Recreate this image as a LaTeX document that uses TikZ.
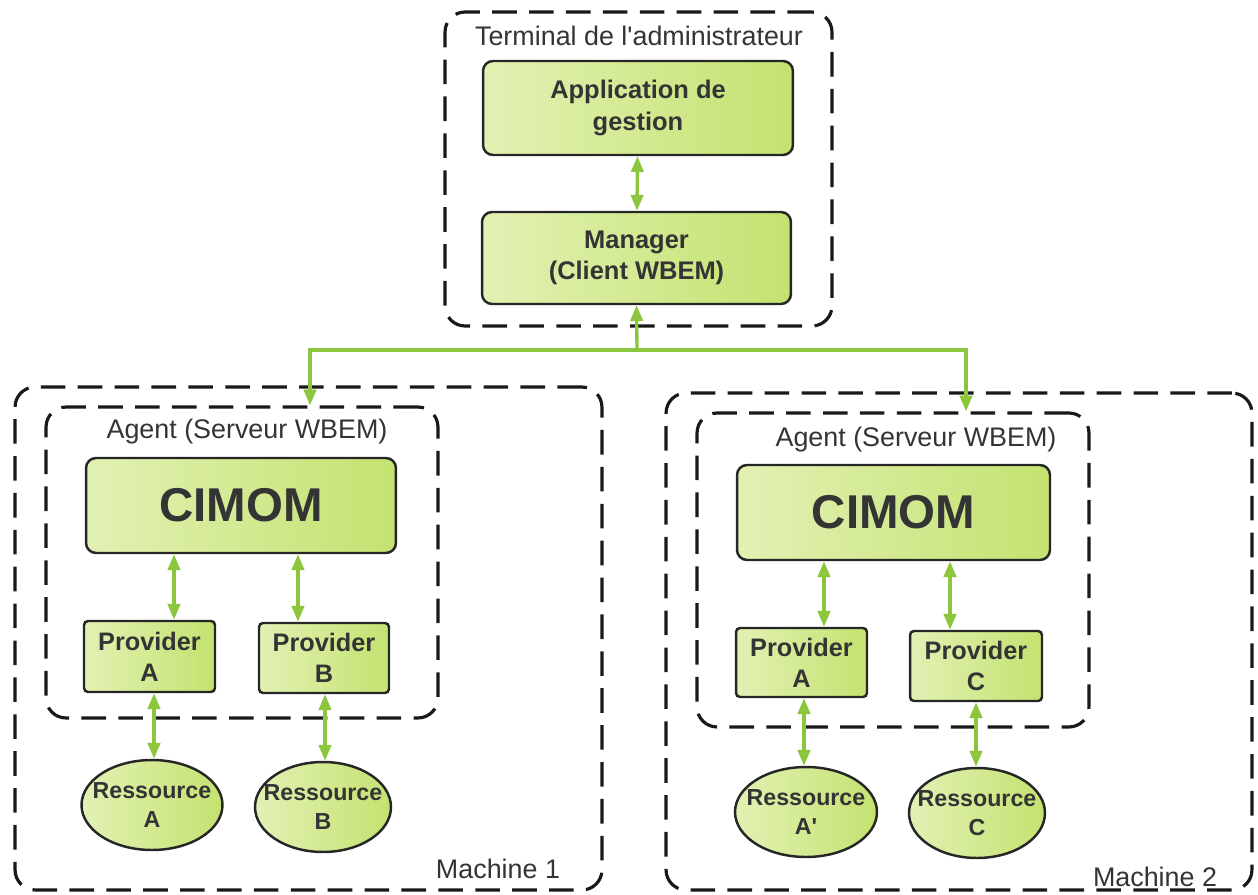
\documentclass[tikz,border=0pt]{standalone}
\usepackage{fontspec}
\setmainfont{Liberation Sans}
\usetikzlibrary{arrows.meta,shapes.geometric}

\definecolor{boxlight}{RGB}{226,241,180}
\definecolor{boxdark}{RGB}{196,226,112}
\definecolor{linkgreen}{RGB}{140,198,60}
\definecolor{ink}{RGB}{52,52,52}

\begin{document}
\begin{tikzpicture}[x=0.02cm, y=-0.02cm,
  container/.style={draw=black!90, line width=1.8pt, dash pattern=on 14pt off 7pt,
    rounded corners=0.4cm, inner sep=0pt},
  box/.style={draw=black!85, line width=1.4pt, rounded corners=0.2cm,
    left color=boxlight, right color=boxdark, inner sep=0pt,
    font=\bfseries\fontsize{14.5}{18}\selectfont, text=ink, align=center},
  smallbox/.style={box, rounded corners=0.08cm, font=\bfseries\fontsize{14.4}{17.5}\selectfont},
  bigtext/.style={font=\bfseries\fontsize{27}{30}\selectfont},
  res/.style={ellipse, draw=black!85, line width=1.4pt, left color=boxlight,
    right color=boxdark, inner sep=0pt, minimum height=1.8cm},
  restext/.style={font=\bfseries\fontsize{13.2}{16.5}\selectfont, text=ink, align=center},
  title/.style={font=\fontsize{15.3}{18}\selectfont, text=ink},
  link/.style={draw=linkgreen, line width=1.9pt, {Triangle[length=9pt,width=7pt]}-{Triangle[length=9pt,width=7pt]}},
  feed/.style={draw=linkgreen, line width=1.9pt, -{Triangle[length=9pt,width=7pt]}}
]
\useasboundingbox (0,0) rectangle (1258,895);

% ---------- administrator terminal ----------
\node[container, minimum width=7.74cm, minimum height=6.28cm] (term) at (638.5,169) {};
\node[title] (termt) at (639,36) {Terminal de l\textquotesingle administrateur};
\node[box, minimum width=6.2cm, minimum height=1.88cm] (app) at (638,108) {Application de\\gestion};
\node[box, minimum width=6.18cm, minimum height=1.84cm] (mgr) at (636.5,258) {Manager\\(Client WBEM)};
\draw[link] (app) -- (mgr);

% ---------- machine 1 ----------
\node[container, minimum width=11.74cm, minimum height=10.06cm] (m1) at (308.5,638.5) {};
\node[title] (m1t) at (498,869) {Machine 1};
\node[container, minimum width=7.84cm, minimum height=6.22cm] (ag1) at (242,562.5) {};
\node[title] (ag1t) at (247,432) {Agent (Serveur WBEM)};
\node[box, bigtext, minimum width=6.2cm, minimum height=1.9cm] (cim1) at (241,505.5) {CIMOM};
\node[smallbox, minimum width=2.62cm, minimum height=1.42cm] (pa1) at (149.5,656.5) {Provider\\A};
\node[smallbox, minimum width=2.6cm, minimum height=1.4cm] (pb1) at (324,658) {Provider\\B};
\node[res, minimum width=2.82cm] (ra1) at (152,805) {};
\node[restext] (ra1t) at (ra1) {Ressource\\A};
\node[res, minimum width=2.72cm] (rb1) at (323,807) {};
\node[restext] (rb1t) at (rb1) {Ressource\\B};

% ---------- machine 2 ----------
\node[container, minimum width=11.72cm, minimum height=9.94cm] (m2) at (959,641.5) {};
\node[title] (m2t) at (1155,877) {Machine 2};
\node[container, minimum width=7.84cm, minimum height=6.28cm] (ag2) at (893,570) {};
\node[title] (ag2t) at (916,440) {Agent (Serveur WBEM)};
\node[box, bigtext, minimum width=6.26cm, minimum height=1.9cm] (cim2) at (893.5,512.5) {CIMOM};
\node[smallbox, minimum width=2.62cm, minimum height=1.38cm] (pa2) at (801.5,662.5) {Provider\\A};
\node[smallbox, minimum width=2.64cm, minimum height=1.4cm] (pc2) at (976,666) {Provider\\C};
\node[res, minimum width=2.84cm] (ra2) at (806,812) {};
\node[restext] (ra2t) at (ra2) {Ressource\\A\textquotesingle};
\node[res, minimum width=2.72cm] (rc2) at (977,813) {};
\node[restext] (rc2t) at (rc2) {Ressource\\C};

% ---------- vertical positions of the connectors ----------
\coordinate (xa1) at (174,0);
\coordinate (xb1) at (298,0);
\coordinate (xra1) at (154,0);
\coordinate (xrb1) at (325,0);
\coordinate (xa2) at (824,0);
\coordinate (xc2) at (950,0);
\coordinate (xra2) at (804,0);
\coordinate (xrc2) at (976,0);

\draw[link] (cim1.south -| xa1) -- (pa1.north -| xa1);
\draw[link] (cim1.south -| xb1) -- (pb1.north -| xb1);
\draw[link] (pa1.south -| xra1) -- (ra1.north -| xra1);
\draw[link] (pb1.south -| xrb1) -- (rb1.north -| xrb1);
\draw[link] (cim2.south -| xa2) -- (pa2.north -| xa2);
\draw[link] (cim2.south -| xc2) -- (pc2.north -| xc2);
\draw[link] (pa2.south -| xra2) -- (ra2.north -| xra2);
\draw[link] (pc2.south -| xrc2) -- (rc2.north -| xrc2);

% ---------- network link from the manager to both agents ----------
\coordinate (hub) at (637,350);
\coordinate (left) at (310,350);
\coordinate (right) at (966,350);
\draw[feed] (hub) -- (mgr.south);
\draw[feed] (hub) -- (left) -- (ag1.north -| left);
\draw[feed] (hub) -- (right) -- (ag2.north -| right);
\end{tikzpicture}
\end{document}
